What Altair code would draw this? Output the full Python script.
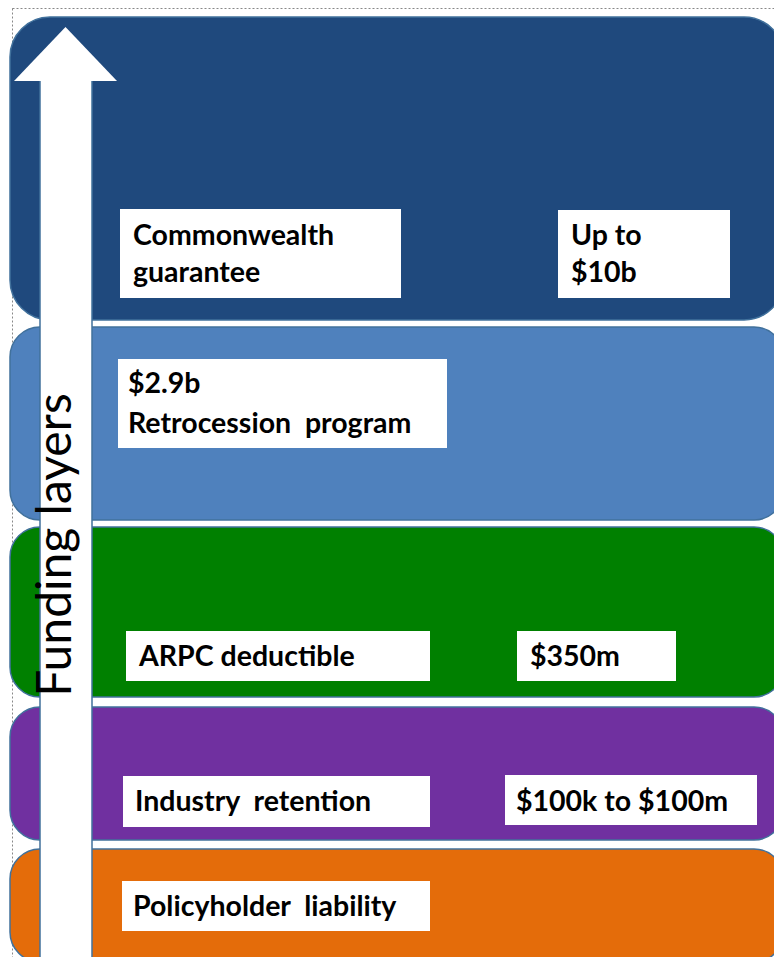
import altair as alt
import pandas as pd

# ---------------- data ----------------
layer_names = ["Commonwealth guarantee", "Retrocession program", "ARPC deductible",
               "Industry retention", "Policyholder liability"]
layer_amounts = ["Up to $10b", "$2.9b", "$350m", "$100k to $100m", ""]
arrow_title = "Funding layers"

# ---------------- layout (diagram geometry, pixel space of the picture) ----------------
layer_top = [17, 327, 527, 707, 849]
layer_bottom = [320, 520, 697, 840, 962]
layer_left = 10
layer_right = 784
layer_fill = ["#1F497D", "#4F81BD", "#008000", "#7030A0", "#E46C0A"]
layer_stroke = "#41719C"

# label boxes: (x0, x1, y0, y1)
name_box = [(120, 401, 209, 298), (118, 447, 359, 448), (126, 430, 631, 681),
            (123, 430, 776, 827), (122, 430, 881, 931)]
amount_box = [(558, 730, 210, 298), None, (517, 676, 631, 681), (505, 757, 775, 825), None]

NBSP = "\u00a0"

# text lines for each box: (text, x, baseline y)
text_rows = []
w = layer_names[0].split(" ")
text_rows += [(w[0], 133, 245), (w[1], 133, 282)]
a = layer_amounts[0].rsplit(" ", 1)
text_rows += [(a[0], 571, 245), (a[1], 571, 282)]
text_rows += [(layer_amounts[1], 128, 393), (layer_names[1].replace(" ", " " + NBSP), 128, 433)]
text_rows += [(layer_names[2], 139, 666), (layer_amounts[2], 530, 666)]
text_rows += [(layer_names[3].replace(" ", " " + NBSP), 135, 811), (layer_amounts[3], 516, 811)]
text_rows += [(layer_names[4].replace(" ", " " + NBSP), 133, 916)]

layers_df = pd.DataFrame({
    "name": layer_names,
    "top": layer_top,
    "bottom": layer_bottom,
    "left": [layer_left] * 5,
    "right": [layer_right] * 5,
    "fill": layer_fill,
})

boxes = [b for b in name_box] + [b for b in amount_box if b is not None]
boxes_df = pd.DataFrame(boxes, columns=["x0", "x1", "y0", "y1"])
text_df = pd.DataFrame(text_rows, columns=["text", "x", "y"])

xs = alt.Scale(domain=[8, 774], nice=False, zero=False)
ys = alt.Scale(domain=[8, 957], reverse=True, nice=False, zero=False)

frame = alt.Chart(pd.DataFrame({"x0": [12.5], "x1": [900], "y0": [8.5], "y1": [1000]})).mark_rect(
    fillOpacity=0, stroke="#888888", strokeWidth=1, strokeDash=[2, 2]
).encode(
    x=alt.X("x0:Q", scale=xs, axis=None), x2="x1:Q",
    y=alt.Y("y0:Q", scale=ys, axis=None), y2="y1:Q",
)

top_layer = alt.Chart(layers_df.iloc[:1]).mark_rect(
    cornerRadius=40, stroke=layer_stroke, strokeWidth=1.5
).encode(
    x=alt.X("left:Q", scale=xs, axis=None), x2="right:Q",
    y=alt.Y("top:Q", scale=ys, axis=None), y2="bottom:Q",
    fill=alt.Fill("fill:N", scale=None),
)
other_layers = alt.Chart(layers_df.iloc[1:]).mark_rect(
    cornerRadius=30, stroke=layer_stroke, strokeWidth=1.5
).encode(
    x=alt.X("left:Q", scale=xs, axis=None), x2="right:Q",
    y=alt.Y("top:Q", scale=ys, axis=None), y2="bottom:Q",
    fill=alt.Fill("fill:N", scale=None),
)

shaft = alt.Chart(pd.DataFrame({"x0": [40], "x1": [92], "y0": [80], "y1": [975]})).mark_rect(
    fill="white", stroke=layer_stroke, strokeWidth=1.5
).encode(
    x=alt.X("x0:Q", scale=xs, axis=None), x2="x1:Q",
    y=alt.Y("y0:Q", scale=ys, axis=None), y2="y1:Q",
)
head = alt.Chart(pd.DataFrame({"x": [65.5], "y": [54]})).mark_point(
    shape="M -1 0.524 L 0 -0.524 L 1 0.524 Z", filled=True, fill="white",
    opacity=1, strokeWidth=0, size=103 * 103
).encode(
    x=alt.X("x:Q", scale=xs, axis=None),
    y=alt.Y("y:Q", scale=ys, axis=None),
)
arrow_text = alt.Chart(pd.DataFrame({"t": [arrow_title], "x": [71], "y": [545]})).mark_text(
    angle=270, align="center", baseline="alphabetic", font="Lato", fontSize=48, color="black"
).encode(
    x=alt.X("x:Q", scale=xs, axis=None),
    y=alt.Y("y:Q", scale=ys, axis=None),
    text="t:N",
)

box_marks = alt.Chart(boxes_df).mark_rect(fill="white").encode(
    x=alt.X("x0:Q", scale=xs, axis=None), x2="x1:Q",
    y=alt.Y("y0:Q", scale=ys, axis=None), y2="y1:Q",
)
labels = alt.Chart(text_df).mark_text(
    align="left", baseline="alphabetic", font="Lato", fontWeight="bold", fontSize=28.5, color="black"
).encode(
    x=alt.X("x:Q", scale=xs, axis=None),
    y=alt.Y("y:Q", scale=ys, axis=None),
    text="text:N",
)

chart = alt.layer(
    frame, top_layer, other_layers, shaft, head, arrow_text, box_marks, labels
).properties(
    width=766, height=949, padding=0,
    autosize=alt.AutoSizeParams(type="none"),
).configure_view(stroke=None)

chart.save("out.html", embed_options={"renderer": "svg", "actions": False})
